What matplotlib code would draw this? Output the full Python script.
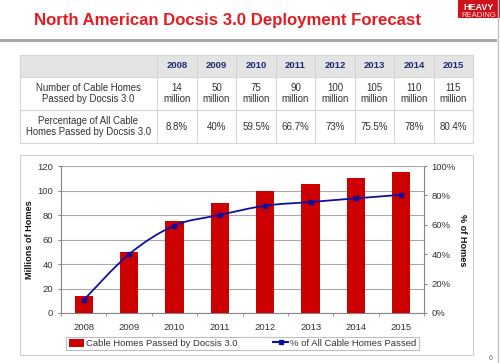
import matplotlib
matplotlib.use("Agg")
import matplotlib.pyplot as plt
from matplotlib.patches import Rectangle, PathPatch
from matplotlib.path import Path
from matplotlib.lines import Line2D
import numpy as np

plt.rcParams['font.family'] = ['Liberation Sans', 'DejaVu Sans']

years = ["2008", "2009", "2010", "2011", "2012", "2013", "2014", "2015"]
homes = [14, 50, 75, 90, 100, 105, 110, 115]
pct = [8.8, 40, 59.5, 66.7, 73, 75.5, 78, 80.4]
pct_labels = ["8.8%", "40%", "59.5%", "66.7%", "73%", "75.5%", "78%", "80.4%"]
row_labels = ["Number of Cable Homes\nPassed by Docsis 3.0",
              "Percentage of All Cable\nHomes Passed by Docsis 3.0"]
title = "North American Docsis 3.0 Deployment Forecast"
bar_label = "Cable Homes Passed by Docsis 3.0"
line_label = "% of All Cable Homes Passed"

W, H = 500, 363
fig = plt.figure(figsize=(5, 3.63), dpi=100)
fig.patch.set_facecolor("white")

def fx(x): return x / W
def fy(y): return 1 - y / H

RED = "#cc0000"
BLUE = "#1010a0"

# page decoration in pixel coordinates
deco = fig.add_axes([0, 0, 1, 1])
deco.set_xlim(0, W); deco.set_ylim(H, 0); deco.axis("off")
deco.add_line(Line2D([0, 495], [40, 40], color="#a8a8a8", lw=2.2))
deco.add_line(Line2D([497.5, 497.5], [0, H], color="#c0c0c0", lw=1.0))
deco.add_patch(Rectangle((458, 0), 42, 18, facecolor="#d0101a", edgecolor="none"))
deco.text(479, 8, "HEAVY", color="white", fontsize=6.5, fontweight="bold", ha="center", va="center")
deco.text(479, 15.5, "READING", color="#fbe0e0", fontsize=5.5, ha="center", va="center")
deco.text(228, 20, title, color="#e31b23", fontsize=12.1, fontweight="bold", ha="center", va="center")
deco.text(491, 358, "6", color="#666666", fontsize=5, ha="center", va="center")

# table
col_edges = [20, 157, 197, 236, 276, 315, 355, 394, 434, 473]
row_edges = [55, 77, 110, 143]
deco.add_patch(Rectangle((20, 55), 453, 22, facecolor="#e4e4e4", edgecolor="none"))
for x in col_edges:
    deco.add_line(Line2D([x, x], [55, 143], color="#d6d6d6", lw=0.8))
for y in row_edges:
    deco.add_line(Line2D([20, 473], [y, y], color="#d6d6d6", lw=0.8))
for i, yr in enumerate(years):
    cx = (col_edges[i + 1] + col_edges[i + 2]) / 2
    deco.text(cx, 66, yr, color="#1f2a6e", fontsize=6.8, fontweight="bold", ha="center", va="center")
    deco.text(cx, 93.5, f"{homes[i]}\nmillion", color="#333333", fontsize=7, ha="center", va="center",
              linespacing=1.15)
    deco.text(cx, 126.5, pct_labels[i], color="#333333", fontsize=7, ha="center", va="center")
for j, lab in enumerate(row_labels):
    cy = (row_edges[j + 1] + row_edges[j + 2]) / 2
    deco.text(88.5, cy, lab, color="#333333", fontsize=6.9, ha="center", va="center", linespacing=1.15)

# chart box
deco.add_patch(Rectangle((19.5, 155), 453.5, 200, facecolor="none", edgecolor="#cfcfcf", lw=0.8))
deco.text(30, 240, "Millions of Homes", rotation=90, fontsize=6.6, fontweight="bold",
          ha="center", va="center", color="#111111")
deco.text(462, 240, "% of Homes", rotation=270, fontsize=6.6, fontweight="bold",
          ha="center", va="center", color="#111111")

ax = fig.add_axes([fx(61), fy(313), 363 / W, 147 / H])
x = np.arange(len(years))
ax.bar(x, homes, width=0.4, color=RED, zorder=3, label=bar_label)
ax.set_xlim(-0.5, len(years) - 0.5)
ax.set_ylim(0, 120)
ax.set_yticks(range(0, 121, 20))
ax.yaxis.grid(True, color="#a8a8a8", lw=0.8, zorder=0)
ax.set_xticks(x)
ax.set_xticklabels(years)
ax.set_xticks(np.arange(-0.5, len(years)), minor=True)
ax.tick_params(axis="x", which="major", length=0, pad=7, labelsize=6.8, colors="#333333")
ax.tick_params(axis="x", which="minor", length=2.5, color="#888888")
ax.tick_params(axis="y", length=2.5, color="#888888", labelsize=6.8, labelcolor="#333333", pad=3)
for s in ["top", "right"]:
    ax.spines[s].set_visible(False)
ax.spines["left"].set_color("#888888")
ax.spines["bottom"].set_color("#888888")
ax.spines["left"].set_linewidth(0.8)
ax.spines["bottom"].set_linewidth(0.8)

ax2 = ax.twinx()
ax2.set_ylim(0, 100)
ax2.set_yticks(range(0, 101, 20))
ax2.set_yticklabels([f"{v}%" for v in range(0, 101, 20)])
ax2.tick_params(axis="y", length=2.5, color="#888888", labelsize=6.8, labelcolor="#333333", pad=3)
for s in ["top", "left", "bottom"]:
    ax2.spines[s].set_visible(False)
ax2.spines["right"].set_color("#888888")
ax2.spines["right"].set_linewidth(0.8)

# smoothed line (Catmull-Rom via cubic Bezier segments)
P = np.column_stack([x, pct]).astype(float)
n = len(P)
verts = [tuple(P[0])]
codes = [Path.MOVETO]
for i in range(n - 1):
    p0 = P[i - 1] if i > 0 else P[i]
    p1, p2 = P[i], P[i + 1]
    p3 = P[i + 2] if i + 2 < n else P[i + 1]
    c1 = p1 + (p2 - p0) / 6
    c2 = p2 - (p3 - p1) / 6
    verts += [tuple(c1), tuple(c2), tuple(p2)]
    codes += [Path.CURVE4] * 3
ax2.add_patch(PathPatch(Path(verts, codes), facecolor="none", edgecolor=BLUE, lw=1.3, zorder=4))
ax2.plot(x, pct, linestyle="none", marker="s", markersize=3, color=BLUE, zorder=5)

handles = [Rectangle((0, 0), 1, 1, facecolor=RED),
           Line2D([], [], color=BLUE, lw=1.5, marker="s", markersize=3)]
leg = fig.legend(handles, [bar_label, line_label], loc="center", ncol=2,
                 bbox_to_anchor=(fx(242.5), fy(343.5)), fontsize=6.8, frameon=True,
                 fancybox=False, edgecolor="#b0b0b0", handlelength=1.6, handletextpad=0.2,
                 columnspacing=3.8, borderpad=0.25, handleheight=0.9)
leg.get_frame().set_linewidth(0.8)
for t in leg.get_texts():
    t.set_color("#333333")

fig.savefig("out.png", dpi=100, facecolor="white")
